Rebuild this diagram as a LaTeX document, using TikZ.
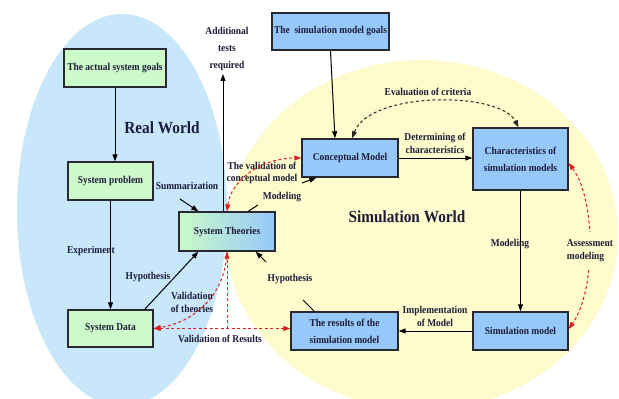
\documentclass[tikz,border=0pt]{standalone}
\usepackage{fontspec}
\setmainfont{Liberation Serif}[FakeStretch=0.9]
\usetikzlibrary{arrows.meta,calc}
\definecolor{bgblue}{RGB}{200,231,250}
\definecolor{bgyellow}{RGB}{254,252,204}
\definecolor{bxgreen}{RGB}{204,250,200}
\definecolor{bxblue}{RGB}{150,200,250}
\definecolor{txt}{RGB}{28,28,56}
\definecolor{dred}{RGB}{225,30,30}
\definecolor{bord}{RGB}{40,40,50}
\newcommand\bxfnt{\fontsize{10.5}{17}\selectfont\bfseries}
\newcommand\lbfnt{\fontsize{10.5}{12.5}\selectfont\bfseries}
\newcommand\tallfnt{\fontsize{10.5}{17}\selectfont\bfseries}
\newcommand\bigfnt{\fontsize{17}{20}\selectfont\bfseries}
\begin{document}
\begin{tikzpicture}[x=1pt,y=-1pt,
  >={Triangle[length=7pt,width=5pt]},
  box/.style={draw=bord,line width=1.4pt,inner sep=0pt,align=center,text=txt,font=\bxfnt},
  gbox/.style={box,fill=bxgreen},
  bbox/.style={box,fill=bxblue},
  lbl/.style={text=txt,font=\lbfnt,align=center,inner sep=0pt},
  arr/.style={line width=1pt,black,->},
  plain/.style={line width=1pt,black},
  rdash/.style={dred,line width=1pt,dash pattern=on 3pt off 2.5pt},
  bdash/.style={black!85,line width=1pt,dash pattern=on 3pt off 2.5pt}]
\useasboundingbox (0,0) rectangle (619,399);
\fill[white] (0,0) rectangle (619,399);
\fill[bgyellow] (422,235) ellipse [x radius=196pt, y radius=175pt];
\fill[bgblue] (122,210) ellipse [x radius=105pt, y radius=196pt];

% boxes
\node[gbox,minimum width=102pt,minimum height=38pt] (ga) at (115,68) {The actual system goals};
\node[gbox,minimum width=85pt,minimum height=38pt] (sp) at (110.5,181) {System problem};
\node[gbox,minimum width=85pt,minimum height=37pt] (sd) at (110.5,328.5) {System Data};
\node[box,left color=bxgreen,middle color=bxgreen!60!bxblue,right color=bxblue,minimum width=96pt,minimum height=39pt] (st) at (227,231.5) {System Theories};
\node[bbox,minimum width=117pt,minimum height=37pt] (gs) at (330.5,31.5) {The\ \ simulation model goals};
\node[bbox,minimum width=96pt,minimum height=38pt] (cm) at (350,158) {Conceptual Model};
\node[bbox,minimum width=95pt,minimum height=62pt] (ch) at (520.5,159) {Characteristics of\\simulation models};
\node[bbox,minimum width=95pt,minimum height=38pt] (sm) at (520.5,331) {Simulation model};
\node[bbox,minimum width=107pt,minimum height=38pt] (rs) at (344.5,331) {The results of the\\simulation model};

% labels
\node[lbl,font=\bigfnt] (rw) at (162,128) {Real World};
\node[lbl,font=\bigfnt] (sw) at (407,217) {Simulation World};
\node[lbl,font=\tallfnt] (at) at (227,49) {Additional\\tests\\required};
\node[lbl] (lsum) at (187,186) {Summarization};
\node[lbl] (lexp) at (91,251) {Experiment};
\node[lbl] (lhyp1) at (148,277) {Hypothesis};
\node[lbl] (lvt) at (192,302.5) {Validation\\of theories};
\node[lbl] (lvr) at (220,339) {Validation of Results};
\node[lbl] (lvc) at (262,173) {The validation of\\conceptual model};
\node[lbl] (lmod1) at (282,197) {Modeling};
\node[lbl] (lhyp2) at (290,279) {Hypothesis};
\node[lbl] (lev) at (428,92) {Evaluation of criteria};
\node[lbl] (ldet) at (435,143.5) {Determining of\\characteristics};
\node[lbl] (lmod2) at (510,244) {Modeling};
\node[lbl] (limp) at (435,316.5) {Implementation\\of Model};

% black connectors
\draw[arr] (ga.south) -- (ga.south |- sp.north);
\draw[arr] (sp.south) -- (sd.north);
\draw[arr] ([xshift=-9pt]sd.north east) -- ([xshift=20pt]st.south west);
\draw[arr] ([xshift=-4pt]st.north) -- ([xshift=-4pt,yshift=-3pt]st.north |- at.south);
\coordinate (sumA) at (180,199);
\draw[arr] (sumA) -- ([xshift=20pt]st.north west);
\coordinate (modA) at (258,205);
\draw[plain] ([xshift=70pt]st.north west) -- (modA);
\coordinate (modB) at (302,183);
\draw[arr] (modB) -- ([xshift=15pt]cm.south west);
\coordinate (hypA) at (303,300);
\draw[plain] ([xshift=24pt]rs.north west) -- (hypA);
\coordinate (hypB) at (266,262);
\draw[arr] (hypB) -- ([xshift=-20pt]st.south east);
\draw[arr] (gs.south) -- ([xshift=-15pt]cm.north);
\draw[bdash,<->] ([xshift=2pt]cm.north) .. controls (370,91) and (500,91) .. ([xshift=-2pt]ch.north);
\draw[arr] (cm.east) -- (cm.east -| ch.west);
\draw[arr] (ch.south) -- (sm.north);
\draw[arr] (sm.west) -- (rs.east);

% red dashed connectors
\draw[rdash,<->] ([yshift=-4pt]ch.east) .. controls (596,200) and (596,290) .. ([yshift=2pt]sm.east);
\node[lbl,fill=bgyellow,align=left,inner ysep=8pt,inner xsep=1pt] (lass) at (590,250.5) {Assessment\\modeling};
\draw[rdash,<->] (st.north) .. controls (231,180) and (262,158) .. (cm.west);
\draw[rdash,<->] (sd.east) -- (sd.east -| rs.west);
\draw[rdash,->] (st.south |- sd.east) -- (st.south);
\draw[rdash,->] (st.south) .. controls (225,295) and (195,322) .. (sd.east);
\end{tikzpicture}
\end{document}
